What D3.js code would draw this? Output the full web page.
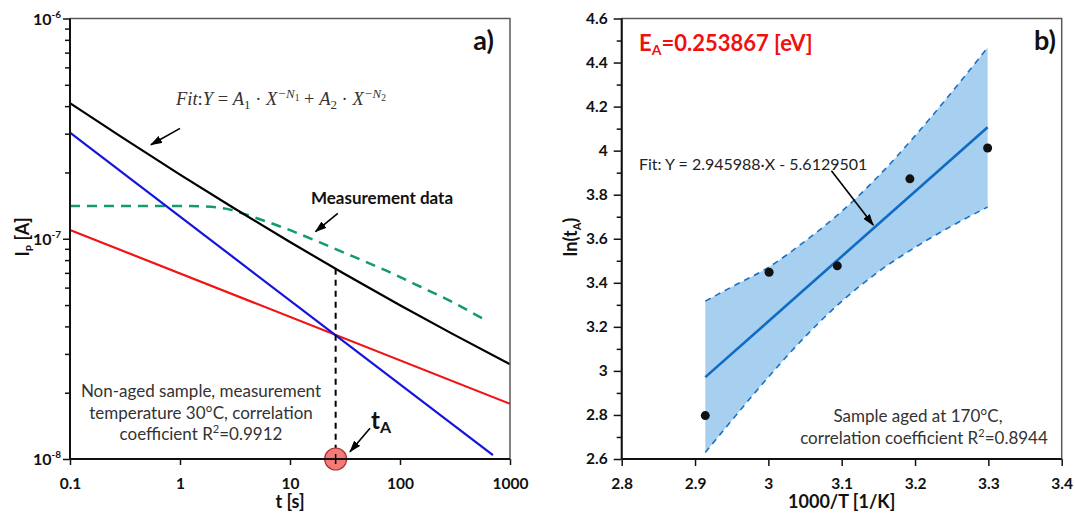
<!DOCTYPE html>
<html>
<head>
<meta charset="utf-8">
<script src="https://cdn.jsdelivr.net/npm/d3@7"></script>
<style>
  body { margin: 0; background: #fff; }
  svg { display: block; }
</style>
</head>
<body>
<svg id="chart" width="1075" height="518"></svg>
<script>
// ---------- Panel a) photocurrent decay and its two-term power-law fit ----------
const timeTicks = [0.1, 1, 10, 100, 1000];
const timeTickLabels = ["0.1", "1", "10", "100", "1000"];
const currentDecades = [1e-8, 1e-7, 1e-6];
const currentDecadeExps = ["-8", "-7", "-6"];

// first power-law term A1·X^-N1
const fastTime = [0.1, 700];
const fastCurrent = [3.03e-7, 1.04e-8];
// second power-law term A2·X^-N2
const slowTime = [0.1, 1000];
const slowCurrent = [1.096e-7, 1.78e-8];
// total fit
const fitTime = [0.1, 0.3, 1, 3, 10, 30, 100, 300, 1000];
const fitCurrent = [4.13e-7, 2.876e-7, 1.956e-7, 1.39e-7, 9.66e-8, 7.01e-8, 4.99e-8, 3.70e-8, 2.69e-8];
// measured current
const measTime = [0.1, 0.5, 1.5, 2.6, 4.6, 9.4, 18.7, 37.4, 76, 152, 303, 593];
const measCurrent = [1.41e-7, 1.41e-7, 1.405e-7, 1.37e-7, 1.256e-7, 1.107e-7, 9.62e-8, 8.31e-8, 7.14e-8, 6.07e-8, 5.14e-8, 4.28e-8];
// crossover time of the two terms
const tA = 26;
const tACurrent = 7.3e-8;

// ---------- Panel b) Arrhenius plot of ln(tA) ----------
const invTempTicks = [2.8, 2.9, 3.0, 3.1, 3.2, 3.3, 3.4];
const invTempTickLabels = ["2.8", "2.9", "3", "3.1", "3.2", "3.3", "3.4"];
const lnTicks = [2.6, 2.8, 3.0, 3.2, 3.4, 3.6, 3.8, 4.0, 4.2, 4.4, 4.6];
const lnTickLabels = ["2.6", "2.8", "3", "3.2", "3.4", "3.6", "3.8", "4", "4.2", "4.4", "4.6"];
const invTemp = [2.914, 3.001, 3.094, 3.193, 3.299];
const lnTA = [2.797, 3.448, 3.477, 3.872, 4.012];
const fitSlope = 2.945988;
const fitIntercept = -5.6129501;
// confidence band
const bandX = [2.914, 2.95, 3.0, 3.05, 3.1, 3.15, 3.2, 3.25, 3.299];
const bandUpper = [3.317, 3.381, 3.470, 3.589, 3.724, 3.884, 4.067, 4.265, 4.468];
const bandLower = [2.630, 2.775, 2.972, 3.155, 3.316, 3.450, 3.561, 3.658, 3.744];

// ---------- layout ----------
const FONT = "Lato, 'Open Sans', 'DejaVu Sans', sans-serif";
const MATH = "'Liberation Serif', 'DejaVu Serif', serif";
const svg = d3.select("#chart").style("font-family", FONT);

const pa = { left: 70, right: 510, top: 18.5, bottom: 459 };
const pb = { left: 621.7, right: 1061.7, top: 18.5, bottom: 459 };

const xA = d3.scaleLog().domain([0.1, 1000]).range([pa.left, pa.right]);
const yA = d3.scaleLog().domain([1e-8, 1e-6]).range([pa.bottom, pa.top]);
const xB = d3.scaleLinear().domain([2.8, 3.4]).range([pb.left, pb.right]);
const yB = d3.scaleLinear().domain([2.6, 4.6]).range([pb.bottom, pb.top]);

const defs = svg.append("defs");
defs.append("marker")
  .attr("id", "arrow")
  .attr("viewBox", "0 0 12 8")
  .attr("refX", 11).attr("refY", 4)
  .attr("markerWidth", 12).attr("markerHeight", 8)
  .attr("markerUnits", "userSpaceOnUse")
  .attr("orient", "auto")
  .append("path").attr("d", "M0,0 L12,4 L0,8 Z").attr("fill", "#000");

// rich text: parts = [{t, size, shift, style, weight}]
function rich(sel, parts) {
  let prev = 0;
  parts.forEach(p => {
    const shift = p.shift || 0;
    const ts = sel.append("tspan").text(p.t).attr("dy", shift - prev);
    if (p.size) ts.attr("font-size", p.size);
    if (p.style) ts.attr("font-style", p.style);
    if (p.weight) ts.attr("font-weight", p.weight);
    prev = shift;
  });
  return sel;
}

function arrow(g, x1, y1, x2, y2) {
  g.append("line")
    .attr("x1", x1).attr("y1", y1).attr("x2", x2).attr("y2", y2)
    .attr("stroke", "#000").attr("stroke-width", 1.6)
    .attr("marker-end", "url(#arrow)");
}

function frame(g, p) {
  g.append("rect")
    .attr("x", p.left).attr("y", p.top)
    .attr("width", p.right - p.left).attr("height", p.bottom - p.top)
    .attr("fill", "none").attr("stroke", "#5a5a5a").attr("stroke-width", 1.5);
  g.append("line").attr("x1", p.left).attr("x2", p.left).attr("y1", p.top).attr("y2", p.bottom)
    .attr("stroke", "#111").attr("stroke-width", 2);
  g.append("line").attr("x1", p.left).attr("x2", p.right).attr("y1", p.bottom).attr("y2", p.bottom)
    .attr("stroke", "#111").attr("stroke-width", 2);
}

function styleAxis(g) {
  g.select(".domain").remove();
  g.selectAll(".tick line").attr("stroke", "#111").attr("stroke-width", 1.5);
  g.selectAll(".tick text")
    .attr("font-family", FONT).attr("font-weight", "bold")
    .attr("font-size", 15.5).attr("fill", "#111");
}

// ================= Panel a =================
const ga = svg.append("g");

// minor log ticks on the current axis
const minorCurrent = [];
[1e-8, 1e-7].forEach(d => { for (let k = 2; k <= 9; k++) minorCurrent.push(d * k); });
ga.append("g").attr("transform", `translate(${pa.left},0)`)
  .call(d3.axisLeft(yA).tickValues(minorCurrent).tickSize(5).tickFormat(""))
  .call(styleAxis);
ga.append("g").attr("transform", `translate(${pa.left},0)`)
  .call(d3.axisLeft(yA).tickValues(currentDecades).tickSize(7).tickFormat(""))
  .call(styleAxis);
ga.append("g").attr("transform", `translate(0,${pa.bottom})`)
  .call(d3.axisBottom(xA).tickValues(timeTicks).tickSize(6).tickPadding(13)
    .tickFormat((d, i) => timeTickLabels[i]))
  .call(styleAxis);

// decade labels 10^n
currentDecades.forEach((d, i) => {
  const t = ga.append("text")
    .attr("x", pa.left - 9).attr("y", yA(d) + 6)
    .attr("text-anchor", "end")
    .attr("font-weight", "bold").attr("font-size", 16).attr("fill", "#111");
  rich(t, [{ t: "10" }, { t: currentDecadeExps[i], size: 10, shift: -7 }]);
});

const line = d3.line().x(d => xA(d[0])).y(d => yA(d[1]));
const curveLine = d3.line().x(d => xA(d[0])).y(d => yA(d[1])).curve(d3.curveMonotoneX);
const plotA = ga.append("g");

plotA.append("path").datum(measTime.map((t, i) => [t, measCurrent[i]]))
  .attr("d", curveLine).attr("fill", "none")
  .attr("stroke", "#149a72").attr("stroke-width", 2.5).attr("stroke-dasharray", "10,7");
plotA.append("path").datum(slowTime.map((t, i) => [t, slowCurrent[i]]))
  .attr("d", line).attr("fill", "none").attr("stroke", "#f01414").attr("stroke-width", 2.2);
plotA.append("path").datum(fastTime.map((t, i) => [t, fastCurrent[i]]))
  .attr("d", line).attr("fill", "none").attr("stroke", "#1414dc").attr("stroke-width", 2.2);
plotA.append("path").datum(fitTime.map((t, i) => [t, fitCurrent[i]]))
  .attr("d", curveLine).attr("fill", "none").attr("stroke", "#000").attr("stroke-width", 2.2);

// tA marker: dashed drop line and circle on the time axis
plotA.append("line")
  .attr("x1", xA(tA)).attr("x2", xA(tA))
  .attr("y1", yA(tACurrent)).attr("y2", pa.bottom)
  .attr("stroke", "#000").attr("stroke-width", 2).attr("stroke-dasharray", "6,5");
plotA.append("circle")
  .attr("cx", xA(tA)).attr("cy", pa.bottom).attr("r", 11)
  .attr("fill", "#f47a78").attr("stroke", "#a83232").attr("stroke-width", 1.2);
plotA.append("line")
  .attr("x1", xA(tA)).attr("x2", xA(tA))
  .attr("y1", pa.bottom - 5).attr("y2", pa.bottom + 5)
  .attr("stroke", "#000").attr("stroke-width", 1.5);

frame(ga, pa);

// annotations
arrow(ga, xA(1.0), yA(3.17e-7), xA(0.544), yA(2.67e-7));
arrow(ga, xA(27.2), yA(1.305e-7), xA(17.05), yA(1.077e-7));
arrow(ga, xA(53.4), yA(1.378e-8), xA(35.1), yA(1.079e-8));

const fitText = ga.append("text").attr("x", 176).attr("y", 105)
  .attr("font-family", MATH).attr("font-size", 18.5).attr("fill", "#333");
rich(fitText, [
  { t: "Fit", style: "italic" }, { t: ":" }, { t: "Y", style: "italic" }, { t: " = " },
  { t: "A", style: "italic" }, { t: "1", size: 13, shift: 4 }, { t: " · ", shift: 0 },
  { t: "X", style: "italic" }, { t: "−N", style: "italic", size: 13, shift: -7 },
  { t: "1", size: 9.5, shift: -4 }, { t: " + ", shift: 0 },
  { t: "A", style: "italic" }, { t: "2", size: 13, shift: 4 }, { t: " · ", shift: 0 },
  { t: "X", style: "italic" }, { t: "−N", style: "italic", size: 13, shift: -7 },
  { t: "2", size: 9.5, shift: -4 }
]);

ga.append("text").attr("x", 382).attr("y", 204).attr("text-anchor", "middle")
  .attr("font-weight", "bold").attr("font-size", 17).attr("fill", "#111")
  .text("Measurement data");

ga.append("text").attr("x", 494).attr("y", 50).attr("text-anchor", "end")
  .attr("font-weight", "bold").attr("font-size", 27).attr("fill", "#111").text("a)");

const noteA = ["Non-aged sample, measurement", "temperature 30°C, correlation"];
noteA.forEach((s, i) => {
  ga.append("text").attr("x", 201).attr("y", 397 + i * 21.7).attr("text-anchor", "middle")
    .attr("font-size", 17).attr("fill", "#333").text(s);
});
rich(ga.append("text").attr("x", 201).attr("y", 440.4).attr("text-anchor", "middle")
  .attr("font-size", 17).attr("fill", "#333"),
  [{ t: "coefficient R" }, { t: "2", size: 11, shift: -7 }, { t: "=0.9912", shift: 0 }]);

rich(ga.append("text").attr("x", 371).attr("y", 429)
  .attr("font-weight", "bold").attr("font-size", 24).attr("fill", "#111"),
  [{ t: "t" }, { t: "A", size: 16, shift: 4 }]);

ga.append("text").attr("x", xA(10)).attr("y", 508).attr("text-anchor", "middle")
  .attr("font-weight", "bold").attr("font-size", 18).attr("fill", "#111").text("t [s]");

rich(ga.append("text").attr("transform", "translate(29,237) rotate(-90)")
  .attr("text-anchor", "middle").attr("font-weight", "bold").attr("font-size", 18).attr("fill", "#111"),
  [{ t: "I" }, { t: "P", size: 10, shift: 4 }, { t: " [A]", shift: 0 }]);

// ================= Panel b =================
const gb = svg.append("g");

const lnMinor = d3.range(2.7, 4.6, 0.2).map(v => +v.toFixed(1));
gb.append("g").attr("transform", `translate(${pb.left},0)`)
  .call(d3.axisLeft(yB).tickValues(lnMinor).tickSize(5).tickFormat(""))
  .call(styleAxis);
gb.append("g").attr("transform", `translate(${pb.left},0)`)
  .call(d3.axisLeft(yB).tickValues(lnTicks).tickSize(8).tickPadding(6)
    .tickFormat((d, i) => lnTickLabels[i]))
  .call(styleAxis);
gb.append("g").attr("transform", `translate(0,${pb.bottom})`)
  .call(d3.axisBottom(xB).tickValues(invTempTicks).tickSize(7).tickPadding(12)
    .tickFormat((d, i) => invTempTickLabels[i]))
  .call(styleAxis);

const band = d3.area()
  .x((d, i) => xB(bandX[i]))
  .y0((d, i) => yB(bandLower[i]))
  .y1((d, i) => yB(bandUpper[i]))
  .curve(d3.curveMonotoneX);
gb.append("path").datum(bandX).attr("d", band).attr("fill", "#a7cff0");

const bandLine = d3.line().x(d => xB(d[0])).y(d => yB(d[1])).curve(d3.curveMonotoneX);
[bandUpper, bandLower].forEach(arr => {
  gb.append("path").datum(bandX.map((x, i) => [x, arr[i]]))
    .attr("d", bandLine).attr("fill", "none")
    .attr("stroke", "#1b72c4").attr("stroke-width", 1.6).attr("stroke-dasharray", "6,5");
});

const fitEnds = d3.extent(invTemp);
gb.append("line")
  .attr("x1", xB(fitEnds[0])).attr("y1", yB(fitSlope * fitEnds[0] + fitIntercept))
  .attr("x2", xB(fitEnds[1])).attr("y2", yB(fitSlope * fitEnds[1] + fitIntercept))
  .attr("stroke", "#0f6cc2").attr("stroke-width", 2.6);

gb.selectAll("circle.pt").data(invTemp).join("circle").attr("class", "pt")
  .attr("cx", d => xB(d)).attr("cy", (d, i) => yB(lnTA[i])).attr("r", 4.5).attr("fill", "#111");

frame(gb, pb);

arrow(gb, xB(3.086), yB(3.909), xB(3.143), yB(3.662));

rich(gb.append("text").attr("x", 639).attr("y", 51)
  .attr("font-weight", "bold").attr("font-size", 22).attr("fill", "#f01010"),
  [{ t: "E" }, { t: "A", size: 14, shift: 4 }, { t: "=0.253867 [eV]", shift: 0 }]);

gb.append("text").attr("x", 1056).attr("y", 50).attr("text-anchor", "end")
  .attr("font-weight", "bold").attr("font-size", 27).attr("fill", "#111").text("b)");

gb.append("text").attr("x", 639).attr("y", 170)
  .attr("font-size", 16).attr("fill", "#222")
  .text(`Fit: Y = ${fitSlope}·X - ${Math.abs(fitIntercept)}`);

gb.append("text").attr("x", 918).attr("y", 422).attr("text-anchor", "middle")
  .attr("font-size", 17).attr("fill", "#333").text("Sample aged at 170°C,");
rich(gb.append("text").attr("x", 924).attr("y", 444).attr("text-anchor", "middle")
  .attr("font-size", 17).attr("fill", "#333"),
  [{ t: "correlation coefficient R" }, { t: "2", size: 11, shift: -7 }, { t: "=0.8944", shift: 0 }]);

gb.append("text").attr("x", (pb.left + pb.right) / 2).attr("y", 508).attr("text-anchor", "middle")
  .attr("font-weight", "bold").attr("font-size", 18).attr("fill", "#111").text("1000/T [1/K]");

rich(gb.append("text").attr("transform", "translate(577,237) rotate(-90)")
  .attr("text-anchor", "middle").attr("font-weight", "bold").attr("font-size", 18).attr("fill", "#111"),
  [{ t: "ln(t" }, { t: "A", size: 11, shift: 4 }, { t: ")", shift: 0 }]);
</script>
</body>
</html>
